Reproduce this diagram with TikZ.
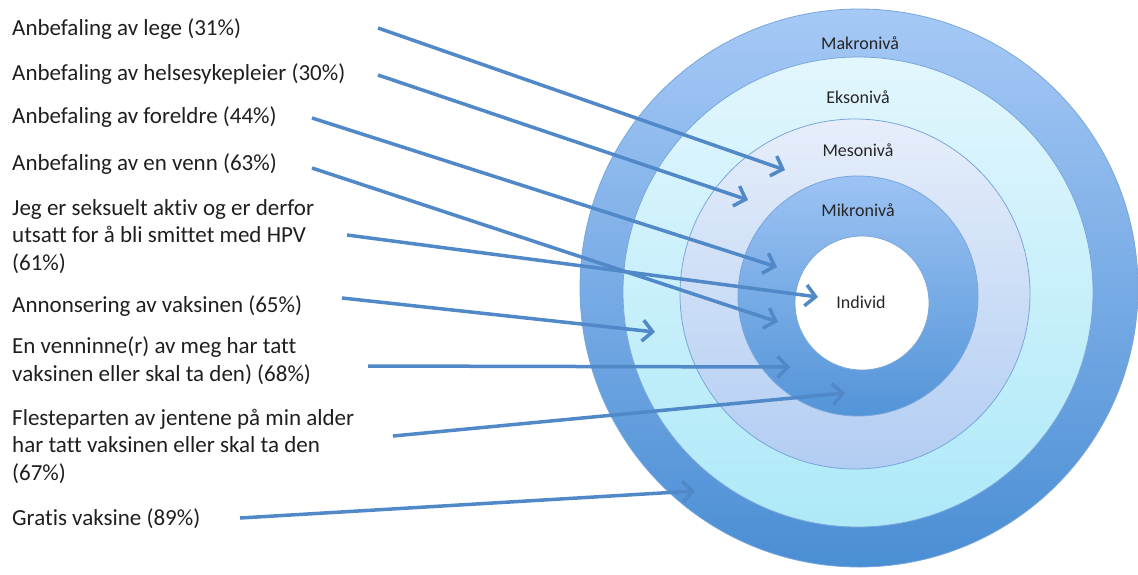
\documentclass[tikz,border=0pt]{standalone}
\usepackage{fontspec}
\setmainfont{Carlito}[Ligatures=NoCommon]
\usepackage{xcolor}
\usetikzlibrary{arrows.meta}

\definecolor{pilblaa}{HTML}{5088C8}
\definecolor{kant}{HTML}{79A6DA}
\definecolor{makroTop}{HTML}{A6C9F6}
\definecolor{makroBunn}{HTML}{4A8ED4}
\definecolor{eksoTop}{HTML}{E2F6FD}
\definecolor{eksoBunn}{HTML}{AEE9F8}
\definecolor{mesoTop}{HTML}{E6EEFA}
\definecolor{mesoBunn}{HTML}{B2CDF3}
\definecolor{mikroTop}{HTML}{9CC3F3}
\definecolor{mikroBunn}{HTML}{5394D8}

\tikzset{
    niva/.style={circle, draw=kant, line width=0.8pt, inner sep=0pt},
    nivatekst/.style={text=black!85, font=\fontsize{18}{21}\selectfont},
    faktor/.style={anchor=base west, align=left, inner sep=0pt, text=black!88,
        font=\fontsize{23}{27.5}\selectfont},
    pil/.style={pilblaa, line width=3.5pt,
        -{Straight Barb[length=10pt,width=21pt]}}
}

\begin{document}
\begin{tikzpicture}[x=1pt,y=-1pt]

    \useasboundingbox (0,0) rectangle (1138,574);

    % Sirkler
    \node[niva, minimum size=558pt, top color=makroTop, bottom color=makroBunn] (makro) at (859,288) {};
    \node[niva, minimum size=470pt, top color=eksoTop, bottom color=eksoBunn] (ekso) at (858,292) {};
    \node[niva, minimum size=350pt, top color=mesoTop, bottom color=mesoBunn] (meso) at (855,294) {};
    \node[niva, minimum size=240pt, top color=mikroTop, bottom color=mikroBunn] (mikro) at (858,296) {};
    \node[niva, minimum size=134pt, fill=white] (individ) at (862,303) {};

    % Nivaa-navn
    \node[nivatekst] (tmakro) at (860,43) {Makronivå};
    \node[nivatekst] (tekso) at (858,97) {Eksonivå};
    \node[nivatekst] (tmeso) at (858,150) {Mesonivå};
    \node[nivatekst] (tmikro) at (858,210) {Mikronivå};
    \node[nivatekst] (tindivid) at (861,302) {Individ};

    % Faktorer (flerlinjede: ankret i siste linje)
    \node[faktor] (lege) at (12,35) {Anbefaling av lege (31\%)};
    \node[faktor] (helse) at (12,80) {Anbefaling av helsesykepleier (30\%)};
    \node[faktor] (foreldre) at (12,123) {Anbefaling av foreldre (44\%)};
    \node[faktor] (venn) at (12,170) {Anbefaling av en venn (63\%)};
    \node[faktor] (aktiv) at (12,270) {Jeg er seksuelt aktiv og er derfor\\utsatt for å bli smittet med HPV\\(61\%)};
    \node[faktor] (annonse) at (12,312) {Annonsering av vaksinen (65\%)};
    \node[faktor] (venninne) at (12,381) {En venninne(r) av meg har tatt\\vaksinen eller skal ta den) (68\%)};
    \node[faktor] (jentene) at (12,480) {Flesteparten av jentene på min alder\\har tatt vaksinen eller skal ta den\\(67\%)};
    \node[faktor] (gratis) at (12,525) {Gratis vaksine (89\%)};

    % Piler
    \foreach \n/\sx/\sy/\ex/\ey in {1/378/28/785/170, 2/378/75/748/200,
        3/312/118/777/267, 4/312/168/778/322, 5/347/235/818/297,
        6/342/298/655/332, 7/368/366/790/367, 8/393/436/845/393,
        9/240/518/695/491} {
        \coordinate (s\n) at (\sx,\sy);
        \coordinate (e\n) at (\ex,\ey);
    }
    \foreach \n in {1,...,9} {
        \draw[pil] (s\n) -- (e\n);
    }

\end{tikzpicture}
\end{document}
